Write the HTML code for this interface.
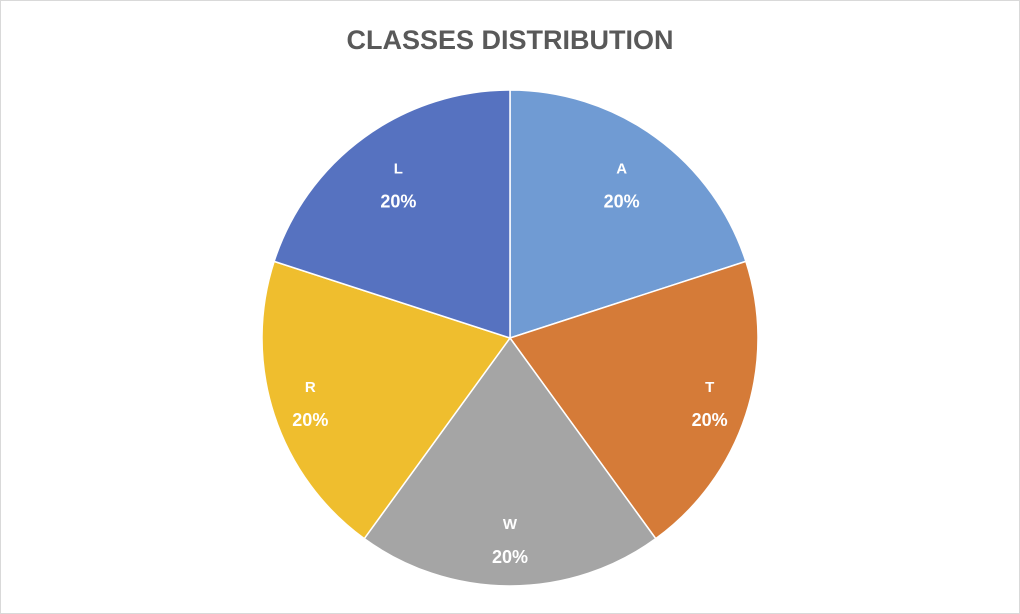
<!DOCTYPE html>
<html><head><meta charset="utf-8"><style>
html,body{margin:0;padding:0;background:#fff;}
svg{display:block;}
</style></head><body>
<svg width="1020" height="614" viewBox="0 0 1020 614">
<rect x="0.5" y="0.5" width="1019" height="613" fill="#fff" stroke="#d9d9d9"/>
<text x="510" y="49" text-anchor="middle" font-family="Liberation Sans, sans-serif" font-weight="bold" font-size="27" fill="#595959">CLASSES DISTRIBUTION</text>
<g id="slices"></g>
<g id="labels"></g>
</svg>
<script>
const categories = ["A","T","W","R","L"];
const values = [20,20,20,20,20];
const colors = ["#709bd3","#d57b38","#a5a5a5","#efbe2e","#5672c0"];
const cx=510, cy=338, R=248;
const ns="http://www.w3.org/2000/svg";
const total=values.reduce((a,b)=>a+b,0);
const gS=document.getElementById('slices'), gL=document.getElementById('labels');
function pt(a,r){return [cx+r*Math.sin(a), cy-r*Math.cos(a)];}
function labelR(a){const c=Math.cos(a);return 208.5 - 9.75*c - 16.28*c*c;}
let acc=0;
categories.forEach((c,i)=>{
  const a0=acc/total*2*Math.PI; acc+=values[i]; const a1=acc/total*2*Math.PI;
  const p0=pt(a0,R), p1=pt(a1,R);
  const large=(a1-a0)>Math.PI?1:0;
  const path=document.createElementNS(ns,'path');
  path.setAttribute('d',`M${cx},${cy} L${p0[0]},${p0[1]} A${R},${R} 0 ${large} 1 ${p1[0]},${p1[1]} Z`);
  path.setAttribute('fill',colors[i]);
  path.setAttribute('stroke','#fff');
  path.setAttribute('stroke-width','1.5');
  
  
  gS.appendChild(path);
  const am=(a0+a1)/2;
  const m=pt(am,labelR(am));
  const pct=Math.round(values[i]/total*100)+'%';
  [[c,-17,'label-category-'],[pct,17,'label-percent-']].forEach(([t,dy,nm])=>{
    const tx=document.createElementNS(ns,'text');
    tx.setAttribute('x',m[0]); tx.setAttribute('y',m[1]+dy+6);
    tx.setAttribute('text-anchor','middle');
    tx.setAttribute('font-family','Liberation Sans, sans-serif');
    tx.setAttribute('font-weight','bold');
    tx.setAttribute('font-size', dy<0?'15':'18');
    tx.setAttribute('fill','#fff');
    tx.textContent=t;
    
    
    gL.appendChild(tx);
  });
});
</script>
</body></html>
